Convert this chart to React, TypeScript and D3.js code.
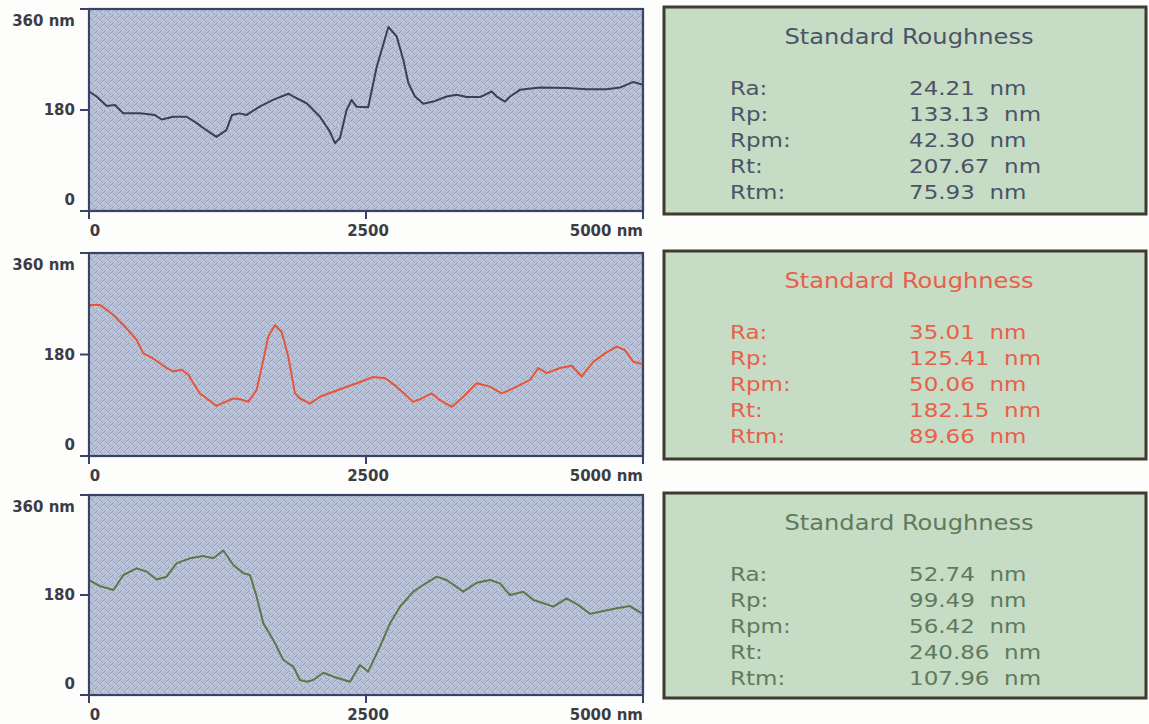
import React from 'react';
import * as d3 from 'd3';

// Scan positions (nm) and surface heights (nm) for the three profiles
const scanA_x = [0, 69, 160, 235, 310, 460, 595, 656, 760, 880, 970, 1060, 1150, 1240, 1290, 1360, 1420, 1540, 1660, 1800, 1845, 1965, 2085, 2175, 2220, 2265, 2325, 2370, 2415, 2520, 2597, 2702, 2777, 2837, 2882, 2942, 3017, 3107, 3228, 3318, 3409, 3529, 3634, 3680, 3755, 3800, 3890, 4070, 4311, 4492, 4672, 4792, 4913, 5000];
const scanA_h = [213, 204, 187, 189, 174, 174, 171, 163, 168, 168, 157, 144, 132, 144, 171, 174, 171, 186, 198, 209, 204, 192, 168, 141, 121, 130, 180, 198, 186, 185, 257, 328, 311, 269, 228, 204, 191, 195, 204, 207, 203, 203, 213, 204, 195, 204, 216, 220, 219, 217, 217, 220, 230, 225];

const scanB_x = [0, 99, 220, 340, 430, 490, 580, 700, 760, 836, 896, 1000, 1150, 1300, 1360, 1437, 1513, 1573, 1618, 1678, 1739, 1799, 1859, 1904, 1995, 2085, 2205, 2416, 2566, 2672, 2777, 2927, 3003, 3093, 3168, 3274, 3378, 3499, 3619, 3725, 3830, 3980, 4055, 4131, 4251, 4356, 4446, 4551, 4657, 4762, 4837, 4913, 4988];
const scanB_h = [268, 268, 250, 226, 206, 182, 173, 156, 150, 153, 144, 111, 89, 102, 101, 96, 117, 170, 212, 232, 220, 176, 111, 102, 93, 105, 114, 129, 140, 138, 123, 96, 102, 111, 99, 87, 105, 129, 123, 111, 120, 135, 156, 147, 156, 160, 141, 167, 182, 194, 188, 167, 163];

const scanC_x = [0, 99, 220, 310, 430, 520, 611, 700, 790, 911, 1032, 1122, 1212, 1302, 1393, 1453, 1513, 1573, 1663, 1754, 1844, 1904, 1965, 2024, 2115, 2205, 2356, 2446, 2520, 2626, 2717, 2807, 2927, 3047, 3138, 3228, 3378, 3499, 3619, 3709, 3800, 3920, 4011, 4191, 4311, 4416, 4522, 4612, 4762, 4883, 4988];
const scanC_h = [207, 196, 189, 216, 228, 222, 208, 213, 237, 246, 250, 246, 260, 234, 219, 216, 177, 129, 99, 63, 51, 27, 24, 27, 40, 33, 24, 54, 42, 87, 129, 159, 186, 202, 213, 207, 186, 202, 207, 201, 180, 186, 171, 159, 174, 162, 146, 150, 156, 160, 147];

// Axis ticks
const heightTicks = [0, 180, 360];
const heightTickLabels = ['0', '180', '360 nm'];
const scanTicks = [0, 2500, 5000];
const scanTickLabels = ['0', '2500', '5000 nm'];

// Roughness statistics for each profile
const statNames = ['Ra:', 'Rp:', 'Rpm:', 'Rt:', 'Rtm:'];
const statsA = [24.21, 133.13, 42.30, 207.67, 75.93];
const statsB = [35.01, 125.41, 50.06, 182.15, 89.66];
const statsC = [52.74, 99.49, 56.42, 240.86, 107.96];

const profiles = [
  { xs: scanA_x, hs: scanA_h, stats: statsA, line: '#3b4150', text: '#4b5466', top: 9, bottom: 211 },
  { xs: scanB_x, hs: scanB_h, stats: statsB, line: '#e4573a', text: '#e8604a', top: 253, bottom: 456 },
  { xs: scanC_x, hs: scanC_h, stats: statsC, line: '#5b7848', text: '#5f7a5c', top: 495, bottom: 695 },
];

const plotLeft = 89;
const plotRight = 643;
const boxLeft = 664;
const boxRight = 1146;
const labelFont = '"DejaVu Sans", Verdana, sans-serif';

function Profile({ p, idx }: { p: typeof profiles[number]; idx: number }) {
  const x = d3.scaleLinear().domain([0, 5000]).range([plotLeft, plotRight]);
  const y = d3.scaleLinear().domain([0, 360]).range([p.bottom, p.top]);
  const pts = p.xs.map((v, i) => [v, p.hs[i]] as [number, number]);
  const path = d3.line<[number, number]>().x((d) => x(d[0])).y((d) => y(d[1]))(pts) || '';
  const yLabelOffset = [-6, 5, 17];
  const xLabelAnchor = ['middle', 'middle', 'end'];
  const xLabelShift = [6, 2, 0];
  const boxTop = p.top - 2;
  const boxBottom = p.bottom + 3;
  const textX = 730;
  const valX = 909;
  const sx = 1.15;
  return (
    <g>
      <rect x={plotLeft} y={p.top} width={plotRight - plotLeft} height={p.bottom - p.top} fill={`url(#hatch)`} />
      <path d={path} fill="none" stroke={p.line} strokeWidth={2} strokeLinejoin="round" clipPath={`url(#clip${idx})`} />
      <rect x={plotLeft} y={p.top} width={plotRight - plotLeft} height={p.bottom - p.top} fill="none" stroke="#3a4266" strokeWidth={2.2} />
      {heightTicks.map((t, i) => (
        <g key={'y' + t}>
          <line x1={plotLeft - 9} x2={plotLeft} y1={y(t)} y2={y(t)} stroke="#3a4266" strokeWidth={2} />
          <text x={75} y={y(t) + yLabelOffset[i]} textAnchor="end" fontFamily={labelFont} fontWeight="bold" fontSize={15} fill="#3c3c44">
            {heightTickLabels[i]}
          </text>
        </g>
      ))}
      {scanTicks.map((t, i) => (
        <g key={'x' + t}>
          <line x1={x(t)} x2={x(t)} y1={p.bottom} y2={p.bottom + 8} stroke="#3a4266" strokeWidth={2} />
          <text x={x(t) + xLabelShift[i]} y={p.bottom + 25} textAnchor={xLabelAnchor[i]} fontFamily={labelFont} fontWeight="bold" fontSize={15} fill="#3c3c44">
            {scanTickLabels[i]}
          </text>
        </g>
      ))}
      <rect x={boxLeft} y={boxTop} width={boxRight - boxLeft} height={boxBottom - boxTop} fill="#c6dcc4" stroke="#3f3b2e" strokeWidth={3} />
      <text transform={`translate(909,${boxTop + 37}) scale(${sx},1)`} textAnchor="middle" fontFamily={labelFont} fontSize={21} fill={p.text}>
        Standard Roughness
      </text>
      {statNames.map((n, i) => (
        <g key={n} fill={p.text} fontFamily={labelFont} fontSize={20}>
          <text transform={`translate(${textX},${boxTop + 88 + i * 26}) scale(${sx},1)`}>{n}</text>
          <text transform={`translate(${valX},${boxTop + 88 + i * 26}) scale(${sx},1)`} style={{ whiteSpace: 'pre' }}>
            {`${p.stats[i].toFixed(2)}  nm`}
          </text>
        </g>
      ))}
    </g>
  );
}

export default function App() {
  return (
    <svg width={1149} height={724} style={{ position: 'absolute', left: 0, top: 0, background: '#fdfdfb' }}>
      <defs>
        <pattern id="hatch" width="8" height="8" patternUnits="userSpaceOnUse">
          <rect width="8" height="8" fill="#b9c2d8" />
          <path d="M0,8 L8,0" stroke="#8d98b4" strokeWidth="0.9" />
          <path d="M1,1 L3,3 M5,5 L7,7" stroke="#939db8" strokeWidth="0.9" />
          <rect x="2" y="5" width="1" height="1" fill="#e6e9f1" />
          <rect x="6" y="2" width="1" height="1" fill="#e2e6ef" />
          <rect x="4" y="0" width="1" height="1" fill="#a0aac2" />
          <rect x="0" y="4" width="1" height="1" fill="#a0aac2" />
        </pattern>
        {profiles.map((p, i) => (
          <clipPath id={`clip${i}`} key={i}>
            <rect x={plotLeft} y={p.top} width={plotRight - plotLeft} height={p.bottom - p.top} />
          </clipPath>
        ))}
      </defs>
      {profiles.map((p, i) => (
        <Profile key={i} p={p} idx={i} />
      ))}
    </svg>
  );
}
